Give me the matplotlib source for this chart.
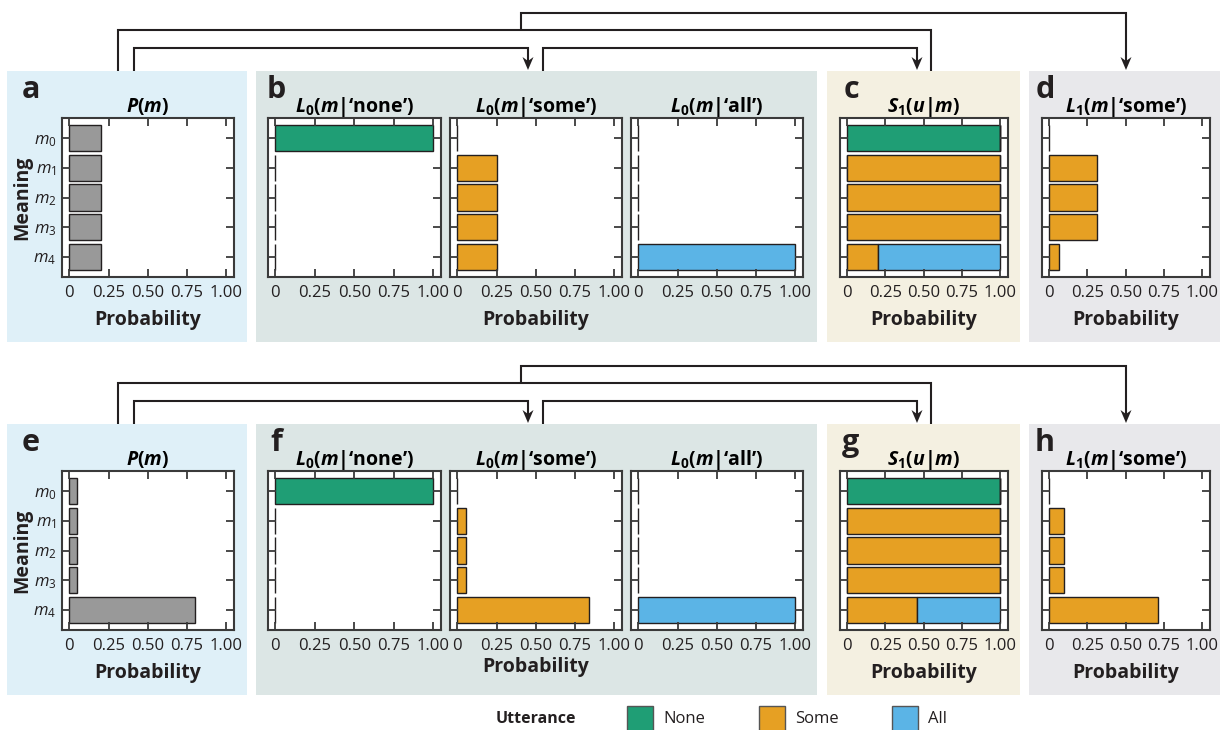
import numpy as np
import matplotlib
matplotlib.use('Agg')
import matplotlib.pyplot as plt
from matplotlib.patches import Rectangle, Polygon

plt.rcParams['font.family'] = ['Open Sans', 'DejaVu Sans']
plt.rcParams['mathtext.fontset'] = 'custom'
plt.rcParams['mathtext.rm'] = 'Open Sans'
plt.rcParams['mathtext.it'] = 'Open Sans:italic'
plt.rcParams['mathtext.bf'] = 'Open Sans:bold'
plt.rcParams['mathtext.bfit'] = 'Open Sans:italic:bold'

###data
meanings = [r'$m_0$', r'$m_1$', r'$m_2$', r'$m_3$', r'$m_4$']
xticks = [0, 0.25, 0.5, 0.75, 1.0]
xtick_labels = ['0', '0.25', '0.50', '0.75', '1.00']
utterances = ['None', 'Some', 'All']

# top row (uniform prior)
prior_top = [0.2, 0.2, 0.2, 0.2, 0.2]
l0_none_top = [1.0, 0, 0, 0, 0]
l0_some_top = [0, 0.25, 0.25, 0.25, 0.25]
l0_all_top = [0, 0, 0, 0, 1.0]
s1_none_top = [1.0, 0, 0, 0, 0]
s1_some_top = [0, 1.0, 1.0, 1.0, 0.2]
s1_all_top = [0, 0, 0, 0, 0.8]
l1_some_top = [0, 0.3125, 0.3125, 0.3125, 0.0625]

# bottom row (skewed prior)
prior_bot = [0.05, 0.05, 0.05, 0.05, 0.8]
l0_none_bot = [1.0, 0, 0, 0, 0]
l0_some_bot = [0, 0.053, 0.053, 0.053, 0.842]
l0_all_bot = [0, 0, 0, 0, 1.0]
s1_none_bot = [1.0, 0, 0, 0, 0]
s1_some_bot = [0, 1.0, 1.0, 1.0, 0.457]
s1_all_bot = [0, 0, 0, 0, 0.543]
l1_some_bot = [0, 0.097, 0.097, 0.097, 0.709]

###styles
W, H = 1220, 730
C_NONE = '#1f9e75'
C_SOME = '#e6a023'
C_ALL = '#5bb4e6'
C_GREY = '#999999'
C_LINE = '#231f20'
C_SPINE = '#3a3a3a'
BG = {'a': '#dff0f8', 'b': '#dce6e5', 'c': '#f4f0e1', 'd': '#e8e8eb'}
TITLE_FS = 14

fig = plt.figure(figsize=(W / 100, H / 100), dpi=100)

bg = fig.add_axes([0, 0, 1, 1], zorder=-1)
bg.set_xlim(0, W)
bg.set_ylim(H, 0)
bg.axis('off')


def rect(x0, x1, y0, y1):
  return [x0 / W, 1 - y1 / H, (x1 - x0) / W, (y1 - y0) / H]


def arrow_path(pts, head=True):
  xs = [p[0] for p in pts]
  ys = [p[1] for p in pts]
  if head:
    ys[-1] -= 8
  bg.plot(xs, ys, color=C_LINE, lw=1.5, solid_joinstyle='miter', solid_capstyle='butt')
  if head:
    x, y = pts[-1]
    bg.add_patch(Polygon([[x - 5.5, y - 14], [x, y - 10], [x + 5.5, y - 14], [x, y - 1]],
                         closed=True, color=C_LINE, lw=0))


def setup(ax, ylabels=False, xlabel=True, labelpad=6):
  ax.set_xlim(-0.047, 1.05)
  ax.set_ylim(4.68, -0.68)
  ax.set_xticks(xticks)
  ax.set_xticklabels(xtick_labels)
  ax.set_yticks(range(5))
  if ylabels:
    ax.set_yticklabels(meanings, fontsize=13.5, color='#444444')
    ax.set_ylabel('Meaning', fontsize=14, fontweight='bold', labelpad=1, color=C_LINE)
  else:
    ax.set_yticklabels([])
  ax.tick_params(direction='in', top=True, right=True, length=6, width=1.3,
                 color=C_SPINE, labelsize=12, labelcolor=C_LINE, pad=6)
  ax.tick_params(axis='y', pad=4)
  for s in ax.spines.values():
    s.set_linewidth(1.5)
    s.set_color(C_SPINE)
  if xlabel:
    ax.set_xlabel('Probability', fontsize=14, fontweight='bold', labelpad=labelpad, color=C_LINE)


def hbar(ax, vals, color, left=None):
  ax.barh(range(5), vals, height=0.88, left=left, color=color, edgecolor=C_LINE, lw=1.0)


rows = [
  (0, prior_top, l0_none_top, l0_some_top, l0_all_top, s1_none_top, s1_some_top, s1_all_top, l1_some_top, 'abcd'),
  (353, prior_bot, l0_none_bot, l0_some_bot, l0_all_bot, s1_none_bot, s1_some_bot, s1_all_bot, l1_some_bot, 'efgh'),
]

for dy, prior, l0n, l0s, l0a, s1n, s1s, s1a, l1s, letters in rows:
  # panel backgrounds
  bg.add_patch(Rectangle((7, 71 + dy), 240, 271, color=BG['a'], lw=0))
  bg.add_patch(Rectangle((256, 71 + dy), 561, 271, color=BG['b'], lw=0))
  bg.add_patch(Rectangle((827, 71 + dy), 193, 271, color=BG['c'], lw=0))
  bg.add_patch(Rectangle((1029, 71 + dy), 191, 271, color=BG['d'], lw=0))

  # arrows
  arrow_path([(118, 71 + dy), (118, 30 + dy), (931, 30 + dy), (931, 71 + dy)], head=False)
  arrow_path([(521, 30 + dy), (521, 13 + dy), (1126, 13 + dy), (1126, 71 + dy)])
  arrow_path([(134, 71 + dy), (134, 48 + dy), (528, 48 + dy), (528, 71 + dy)])
  arrow_path([(543, 71 + dy), (543, 48 + dy), (917, 48 + dy), (917, 71 + dy)])

  # panel letters
  for lx, ch in zip([31, 276, 851, 1045], letters):
    bg.text(lx, 98 + dy, ch, fontsize=22, fontweight='bold', color=C_LINE,
            ha='center', va='baseline')

  top, bot = 118 + dy, 277 + dy

  ax = fig.add_axes(rect(62, 234, top, bot))
  hbar(ax, prior, C_GREY)
  setup(ax, ylabels=True)
  ax.set_title(r'$\mathbfit{P}$($\mathbfit{m}$)', fontsize=TITLE_FS, fontweight='bold', pad=4)

  ax = fig.add_axes(rect(268, 441, top, bot))
  hbar(ax, l0n, C_NONE)
  setup(ax, xlabel=False)
  ax.set_title(r'$\mathbfit{L}_\mathbf{0}$($\mathbfit{m}$|‘none’)', fontsize=TITLE_FS, fontweight='bold', pad=4)

  ax = fig.add_axes(rect(450, 622, top, bot))
  hbar(ax, l0s, C_SOME)
  setup(ax, labelpad=6 if dy == 0 else 2)
  ax.set_title(r'$\mathbfit{L}_\mathbf{0}$($\mathbfit{m}$|‘some’)', fontsize=TITLE_FS, fontweight='bold', pad=4)

  ax = fig.add_axes(rect(631, 803, top, bot))
  hbar(ax, l0a, C_ALL)
  setup(ax, xlabel=False)
  ax.set_title(r'$\mathbfit{L}_\mathbf{0}$($\mathbfit{m}$|‘all’)', fontsize=TITLE_FS, fontweight='bold', pad=4)

  ax = fig.add_axes(rect(840, 1008, top, bot))
  hbar(ax, s1n, C_NONE)
  hbar(ax, s1s, C_SOME, left=s1n)
  hbar(ax, s1a, C_ALL, left=np.array(s1n) + np.array(s1s))
  setup(ax)
  ax.set_title(r'$\mathbfit{S}_\mathbf{1}$($\mathbfit{u}$|$\mathbfit{m}$)', fontsize=TITLE_FS, fontweight='bold', pad=4)

  ax = fig.add_axes(rect(1042, 1210, top, bot))
  hbar(ax, l1s, C_SOME)
  setup(ax)
  ax.set_title(r'$\mathbfit{L}_\mathbf{1}$($\mathbfit{m}$|‘some’)', fontsize=TITLE_FS, fontweight='bold', pad=4)

###legenda
bg.text(496, 719, 'Utterance', fontsize=11.5, fontweight='bold', color=C_LINE, va='center')
for sx, col, lab in zip([627, 759, 892], [C_NONE, C_SOME, C_ALL], utterances):
  bg.add_patch(Rectangle((sx, 706), 26, 30, facecolor=col, edgecolor='#555555', lw=1.0))
  bg.text(sx + 36, 719, lab, fontsize=12, color=C_LINE, va='center')

fig.savefig('out.png', dpi=100)
